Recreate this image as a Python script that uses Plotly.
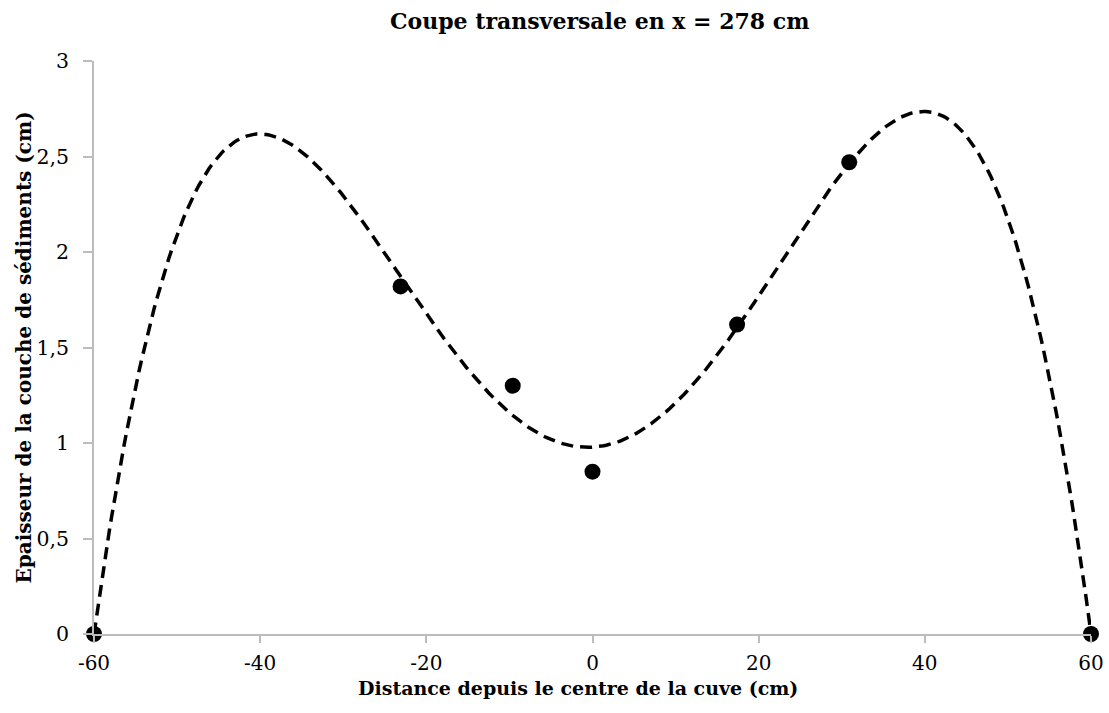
import numpy as np
import plotly.graph_objects as go

# Measured sediment thickness across the tank
distance_cm = [-60, -23.1, -9.6, 0, 17.4, 30.9, 60]
epaisseur_cm = [0, 1.82, 1.30, 0.85, 1.62, 2.47, 0]

x_ticks = [-60, -40, -20, 0, 20, 40, 60]
x_tick_text = ["-60", "-40", "-20", "0", "20", "40", "60"]
y_ticks = [0, 0.5, 1, 1.5, 2, 2.5, 3]
y_tick_text = ["0", "0,5", "1", "1,5", "2", "2,5", "3"]

# Polynomial trendline (order 4) through the measurements
coeffs = np.polyfit(distance_cm, epaisseur_cm, 4)
x_fit = np.linspace(-60, 60, 400)
y_fit = np.polyval(coeffs, x_fit)

FONT = "DejaVu Serif"
AXIS_GREY = "#bcbcbc"

fig = go.Figure()
fig.add_trace(go.Scatter(
    x=x_fit, y=y_fit, mode="lines",
    line=dict(color="black", width=3.5, dash="12px,7px"),
    hoverinfo="skip", showlegend=False,
))
fig.add_trace(go.Scatter(
    x=distance_cm, y=epaisseur_cm, mode="markers",
    marker=dict(color="black", size=16),
    cliponaxis=False, showlegend=False,
))

fig.update_layout(
    width=1109, height=713,
    margin=dict(l=94, r=18, t=61, b=79),
    paper_bgcolor="white", plot_bgcolor="white",
    font=dict(family=FONT, color="black", size=20),
    xaxis=dict(
        range=[-60, 60], tickvals=x_ticks, ticktext=x_tick_text,
        showgrid=False, zeroline=False, automargin=False,
        showline=True, linecolor=AXIS_GREY, linewidth=1.5,
        ticks="outside", ticklen=7, tickcolor=AXIS_GREY, tickwidth=1.5,
        tickfont=dict(family=FONT, size=20), ticklabelstandoff=3,
    ),
    yaxis=dict(
        range=[0, 3], tickvals=y_ticks, ticktext=y_tick_text,
        showgrid=False, zeroline=False, automargin=False,
        showline=True, linecolor=AXIS_GREY, linewidth=1.5,
        ticks="outside", ticklen=9, tickcolor=AXIS_GREY, tickwidth=1.5,
        tickfont=dict(family=FONT, size=20.5), ticklabelstandoff=10,
    ),
    # inner half of the crossing tick marks on the value axis
    yaxis2=dict(
        overlaying="y", side="left", range=[0, 3], tickvals=y_ticks,
        showticklabels=False, showgrid=False, zeroline=False, showline=False,
        automargin=False,
        ticks="inside", ticklen=8, tickcolor=AXIS_GREY, tickwidth=1.5,
    ),
    annotations=[
        dict(text="<b>Coupe transversale en x = 278 cm</b>",
             xref="paper", yref="paper", x=0.507, y=1.0698,
             xanchor="center", yanchor="middle", showarrow=False,
             font=dict(family=FONT, size=22, color="black")),
        dict(text="<b>Distance depuis le centre de la cuve (cm)</b>",
             xref="paper", yref="paper", x=0.485, y=-0.094,
             xanchor="center", yanchor="middle", showarrow=False,
             font=dict(family=FONT, size=19, color="black")),
        dict(text="<b>Epaisseur de la couche de sédiments (cm)</b>",
             xref="paper", yref="paper", x=-0.0712, y=0.5,
             xanchor="center", yanchor="middle", showarrow=False,
             textangle=-90,
             font=dict(family=FONT, size=20, color="black")),
    ],
)

fig.write_html("out.html")
